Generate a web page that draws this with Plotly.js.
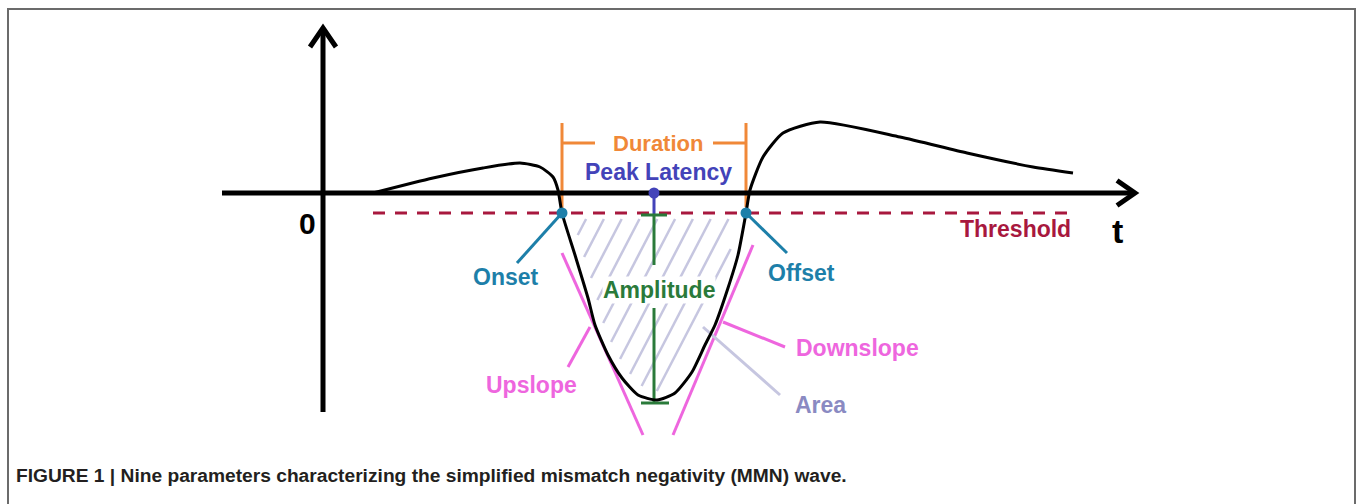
<!DOCTYPE html>
<html>
<head>
<meta charset="utf-8">
<script src="https://cdn.plot.ly/plotly-3.0.1.min.js"></script>
<style>html,body{margin:0;padding:0;background:#fff;}#chart{width:1357px;height:504px;}</style>
</head>
<body>
<div id="chart"></div>
<script>
// ---- data (time units, amplitude units; 0 at the axes origin) ----
const waveT = [50,110,160,197,217,230,235,239,252,265,272,285,299,315,334,352,369,382,392,405,415,423,427,440,460,497,577,644,710,750];
const waveV = [0,15,25,30,26,16,3,-20,-62,-105,-132,-162,-185,-202,-207,-200,-179,-152,-132,-95,-62,-20,3,36,60,71,56,40,26,20];
const thresholdT = [50,750];
const thresholdV = [-20,-20];
const onset = {t:239, v:-20};
const offset = {t:423, v:-20};
const peak = {t:331, v:-210};
const durationTop = 70;
const durationBar = 50;
const upslopeT = [239,320];
const upslopeV = [-60,-242];
const downslopeT = [430,350];
const downslopeV = [-52,-242];
const labelNames = ["Duration","Peak Latency","Onset","Offset","Amplitude","Upslope","Downslope","Area","Threshold"];
const labelT = [335,335,183,478,336,208,534,497,692];
const labelV = [50,21,-84,-80,-97,-192,-155,-212,-36];
const labelSizes = [22,23,23,23,23,23,23,23,23];
const caption = "FIGURE 1 | Nine parameters characterizing the simplified mismatch negativity (MMN) wave.";

const C = {
  axis:'#000000', wave:'#000000', thr:'#a8183e', dur:'#f08838', peak:'#4343b9',
  teal:'#1d7fa9', green:'#2a7a3a', pink:'#ee66de', area:'#8a8ac2', hatch:'#c6c6e0'
};
const labelColors = [C.dur,C.peak,C.teal,C.teal,C.green,C.pink,C.pink,C.area,C.thr];

// ---- hatching clipped to the region between threshold and the wave ----
const i0 = waveT.indexOf(onset.t), i1 = waveT.indexOf(offset.t);
const poly = [];
for (let i=i0;i<=i1;i++) poly.push([waveT[i],waveV[i]]);
function inside(x,y){
  let c=false;
  for(let i=0,j=poly.length-1;i<poly.length;j=i++){
    const [xi,yi]=poly[i],[xj,yj]=poly[j];
    if(((yi>y)!==(yj>y)) && (x < (xj-xi)*(y-yi)/(yj-yi)+xi)) c=!c;
  }
  return c;
}
function distCurve(x,y){
  let d=1e9;
  for(let i=0;i<poly.length-1;i++){
    const [ax,ay]=poly[i],[bx,by]=poly[i+1];
    const dx=bx-ax,dy=by-ay; let u=((x-ax)*dx+(y-ay)*dy)/(dx*dx+dy*dy);
    u=Math.max(0,Math.min(1,u));
    const px=ax+u*dx-x,py=ay+u*dy-y; d=Math.min(d,Math.hypot(px,py));
  }
  return d;
}
const hx=[],hy=[];
const slope=0.52, step=17.8;
for(let x0=284-step*8;x0<=offset.t+step*2;x0+=step){
  let run=[];
  const flush=()=>{ if(run.length>3){ hx.push(run[0][0],run[run.length-1][0],null); hy.push(run[0][1],run[run.length-1][1],null);} run=[]; };
  for(let y=-26;y>=-215;y-=1){
    const x=x0+slope*(y+20);
    if(inside(x,y) && distCurve(x,y)>8) run.push([x,y]); else flush();
  }
  flush();
}

function seg(xs,ys,color,width,dash){
  return {x:xs,y:ys,mode:'lines',type:'scatter',hoverinfo:'skip',showlegend:false,
          line:{color:color,width:width,dash:dash||'solid'}};
}

const traces = [
  seg(hx,hy,C.hatch,2.5),
  seg(thresholdT,thresholdV,C.thr,3,'12px,10px'),
  seg(upslopeT,upslopeV,C.pink,3),
  seg(downslopeT,downslopeV,C.pink,3),
  seg([267,245],[-134,-174],C.pink,3),
  seg([400,462],[-129,-154],C.pink,3),
  seg([380,457],[-134,-202],C.hatch,3),
  seg([onset.t,194],[onset.v,-70],C.teal,3),
  seg([offset.t,464],[offset.v,-60],C.teal,3),
  seg([onset.t,onset.t],[durationTop,onset.v],C.dur,3),
  seg([offset.t,offset.t],[durationTop,-14],C.dur,3),
  seg([onset.t,272],[durationBar,durationBar],C.dur,3),
  seg([390,offset.t],[durationBar,durationBar],C.dur,3),
  seg([peak.t,peak.t],[0,-22],C.peak,3),
  seg([peak.t,peak.t],[-22,-72],C.green,3),
  seg([peak.t,peak.t],[-115,peak.v],C.green,3),
  seg([peak.t-13,peak.t+13],[-22,-22],C.green,3),
  seg([peak.t-13,peak.t+15],[peak.v,peak.v],C.green,3),
  {x:waveT,y:waveV,mode:'lines',type:'scatter',hoverinfo:'skip',showlegend:false,
   line:{color:C.wave,width:3,shape:'spline',smoothing:0.6}},
  seg([-101,812],[0,0],C.axis,5),
  seg([794,812,794],[12.5,0,-12.5],C.axis,5),
  seg([0,0],[-219,165],C.axis,5),
  seg([-13,0,13],[146,165,146],C.axis,5),
  {x:[onset.t,offset.t],y:[onset.v,offset.v],mode:'markers',type:'scatter',hoverinfo:'skip',showlegend:false,
   marker:{color:C.teal,size:11}},
  {x:[peak.t],y:[0],mode:'markers',type:'scatter',hoverinfo:'skip',showlegend:false,
   marker:{color:C.peak,size:11}}
];

const annotations = labelNames.map((n,i)=>({
  x:labelT[i], y:labelV[i], xref:'x', yref:'y', text:'<b>'+n+'</b>', showarrow:false,
  font:{family:'Liberation Sans, Arial, sans-serif', size:labelSizes[i], color:labelColors[i]},
  bgcolor: n==='Amplitude' ? '#ffffff' : 'rgba(0,0,0,0)', borderpad:0
}));
annotations.push({x:-16,y:-30,xref:'x',yref:'y',text:'<b>0</b>',showarrow:false,
  font:{family:'Liberation Sans, Arial, sans-serif',size:30,color:'#000'}});
annotations.push({x:794,y:-38,xref:'x',yref:'y',text:'<b>t</b>',showarrow:false,
  font:{family:'Liberation Sans, Arial, sans-serif',size:34,color:'#000'}});
annotations.push({x:14/1357,y:1-475/504,xref:'paper',yref:'paper',xanchor:'left',yanchor:'middle',
  text:'<b>'+caption+'</b>',showarrow:false,
  font:{family:'Liberation Sans, Arial, sans-serif',size:19.2,color:'#231f20'}});

const layout = {
  width:1357, height:504, margin:{l:0,r:0,t:0,b:0},
  paper_bgcolor:'#fff', plot_bgcolor:'#fff',
  xaxis:{range:[-323,1034],visible:false,fixedrange:true},
  yaxis:{range:[-311,193],visible:false,fixedrange:true},
  showlegend:false,
  shapes:[{type:'rect',xref:'x',yref:'y',x0:-315,x1:1032,y0:-330,y1:184,
           line:{color:'#6b6b6b',width:2},layer:'below'}],
  annotations:annotations
};
Plotly.newPlot('chart',traces,layout,{staticPlot:true});
</script>
</body>
</html>
